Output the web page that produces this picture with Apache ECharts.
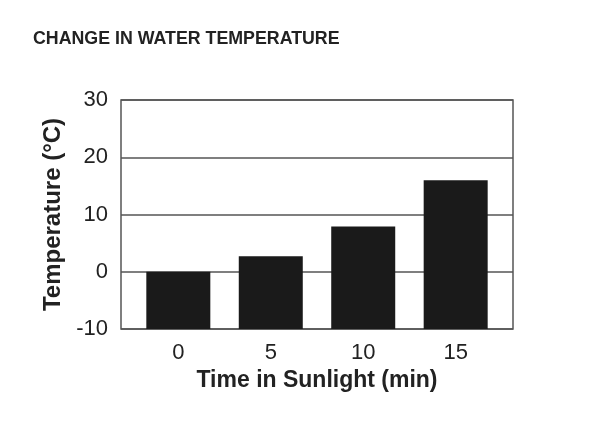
<!DOCTYPE html>
<html>
<head>
<meta charset="utf-8">
<script src="https://cdn.jsdelivr.net/npm/echarts@6/dist/echarts.min.js"></script>
<style>
  html, body { margin: 0; padding: 0; background: #fff; }
  #container { width: 589px; height: 423px; }
</style>
</head>
<body>
<div id="container"></div>
<script>
// time in sunlight (min) and temperature change (°C)
var minutes = [0, 5, 10, 15];
var tempChange = [0, 2.7, 7.9, 16];
var yTicks = [-10, 0, 10, 20, 30];

var dom = document.getElementById("container");
var myChart = echarts.init(dom);
var font = "Liberation Sans";

var barData = minutes.map(function (m, i) {
    return [m, tempChange[i]];
});

var option = {
    animation: false,
    title: {
        text: 'CHANGE IN WATER TEMPERATURE',
        left: 28,
        top: 25,
        textStyle: {
            fontFamily: font,
            fontSize: 17.8,
            fontWeight: 'bold',
            color: '#222'
        }
    },
    grid: {
        show: true,
        left: 121,
        right: 76,
        top: 100,
        bottom: 94,
        borderColor: '#555',
        borderWidth: 1.5,
        containLabel: false
    },
    xAxis: {
        type: 'value',
        min: -3.1,
        max: 18.1,
        name: 'Time in Sunlight (min)',
        nameLocation: 'middle',
        nameGap: 40,
        nameTextStyle: {
            fontFamily: font,
            fontSize: 23,
            fontWeight: 'bold',
            color: '#222'
        },
        axisLine: { show: false },
        axisTick: { show: false },
        splitLine: { show: false },
        axisLabel: {
            customValues: minutes,
            fontFamily: font,
            fontSize: 22,
            color: '#222',
            margin: 13
        }
    },
    yAxis: {
        type: 'value',
        min: yTicks[0],
        max: yTicks[yTicks.length - 1],
        interval: 10,
        name: 'Temperature (°C)',
        nameLocation: 'middle',
        nameGap: 52,
        nameTextStyle: {
            fontFamily: font,
            fontSize: 24,
            fontWeight: 'bold',
            color: '#222'
        },
        axisLine: { show: false },
        axisTick: { show: false },
        splitLine: {
            show: true,
            lineStyle: { color: '#555', width: 1.5 }
        },
        axisLabel: {
            fontFamily: font,
            fontSize: 22,
            color: '#222',
            margin: 13
        }
    },
    series: [
        {
            type: 'custom',
            data: barData,
            encode: { x: 0, y: 1 },
            renderItem: function (params, api) {
                var x = api.value(0);
                var top = api.coord([x, api.value(1)]);
                var bottom = api.coord([x, yTicks[0]]);
                var w = 64;
                return {
                    type: 'rect',
                    shape: {
                        x: top[0] - w / 2,
                        y: top[1],
                        width: w,
                        height: bottom[1] - top[1]
                    },
                    style: { fill: '#1a1a1a' }
                };
            }
        }
    ]
};

myChart.setOption(option);
</script>
</body>
</html>
